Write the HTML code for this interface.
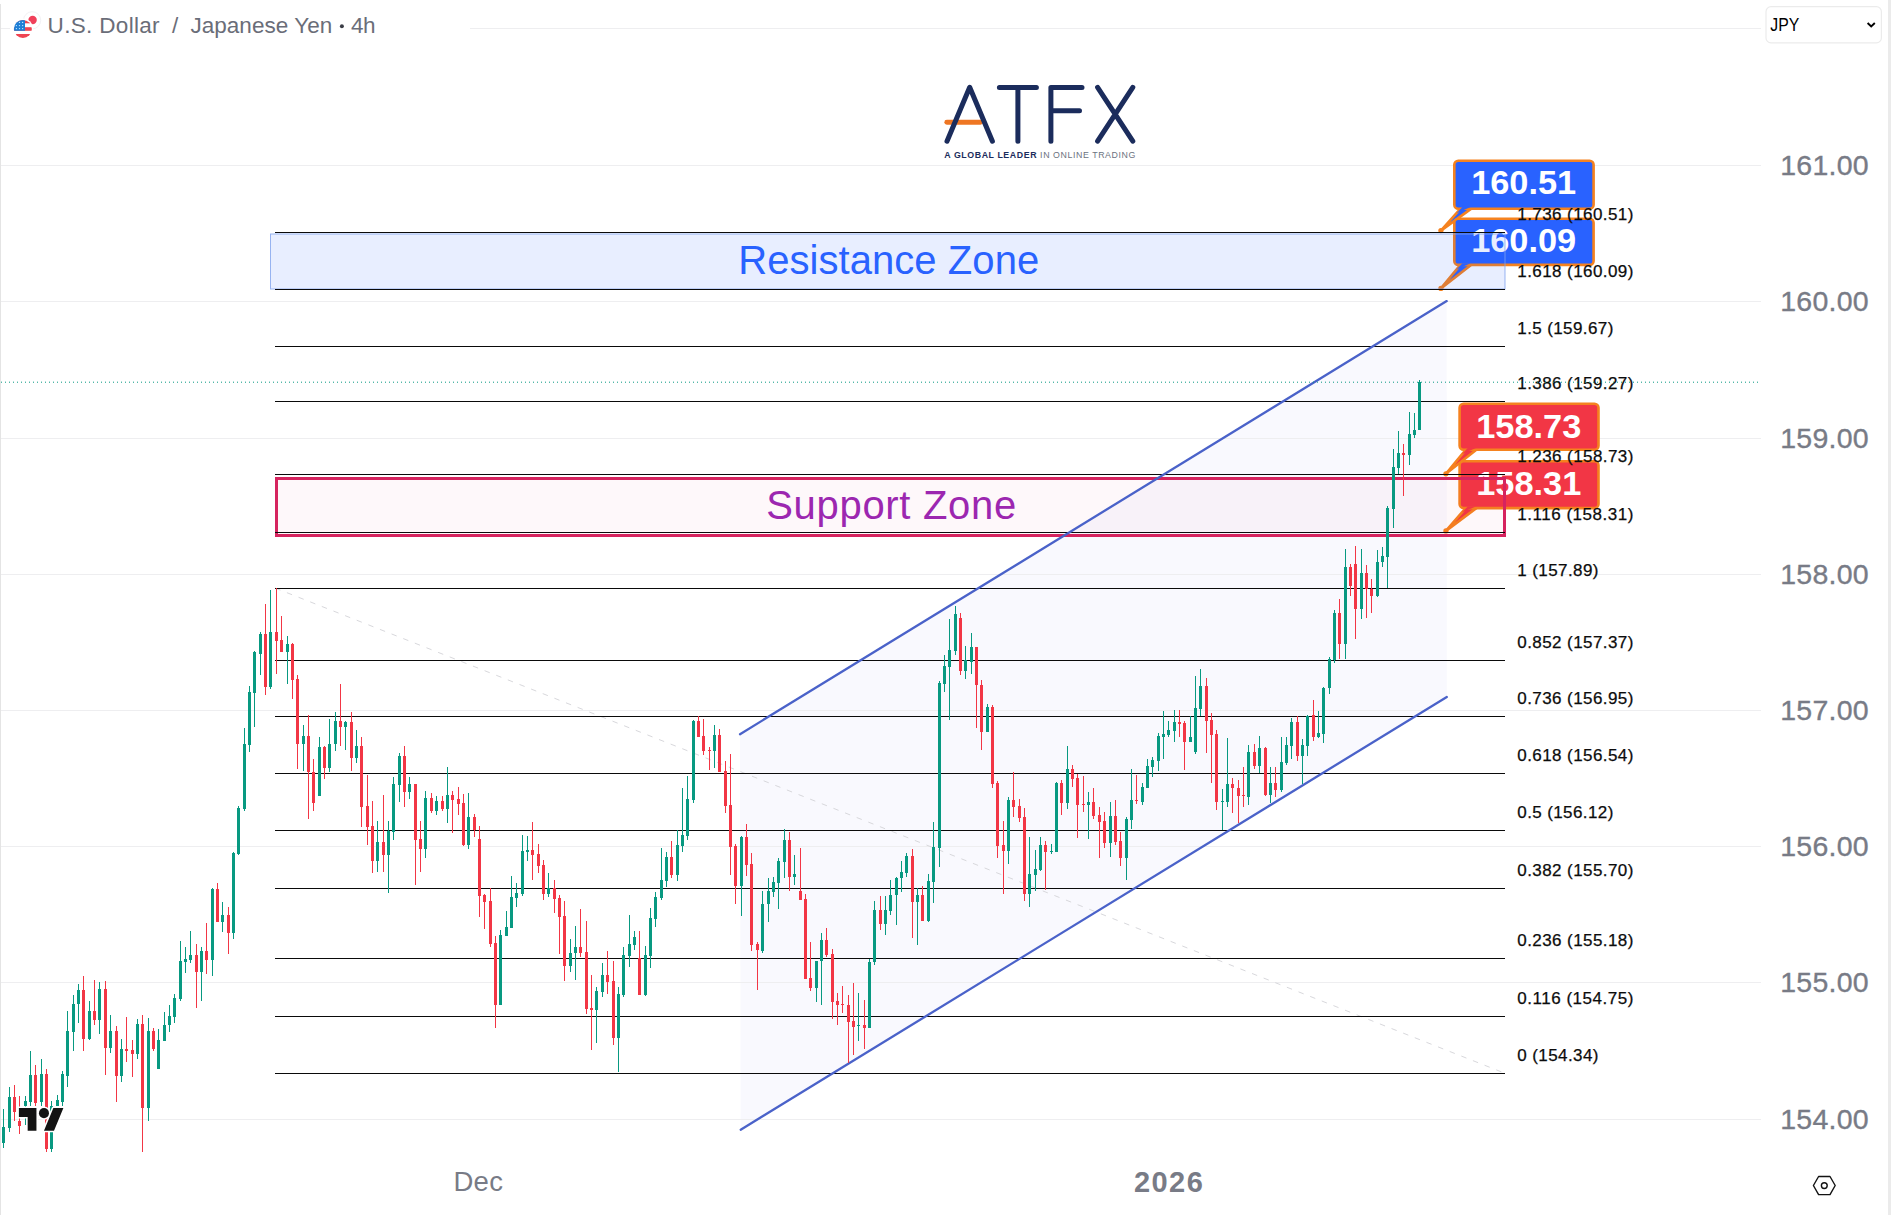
<!DOCTYPE html><html><head><meta charset="utf-8"><title>USDJPY</title>
<style>html,body{margin:0;padding:0;background:#fff;}body{width:1891px;height:1215px;overflow:hidden;font-family:"Liberation Sans",sans-serif;}svg{display:block;position:absolute;left:0;top:0}text{font-family:"Liberation Sans",sans-serif;}</style></head><body>
<svg width="1891" height="1215" viewBox="0 0 1891 1215">
<rect width="1891" height="1215" fill="#ffffff"/>
<rect x="1888" y="0" width="3" height="1215" fill="#ebebeb"/>
<rect x="0" y="4" width="1" height="1211" fill="#e4e4e4"/>
<polygon points="740,734.2 1446.7,301.1 1446.8,697 740.7,1129.7" fill="#f9f9fe"/>
<rect x="1" y="28" width="1760" height="1" fill="#eeeef0" shape-rendering="crispEdges"/>
<rect x="1" y="165" width="1760" height="1" fill="#eeeef0" shape-rendering="crispEdges"/>
<rect x="1" y="301" width="1760" height="1" fill="#eeeef0" shape-rendering="crispEdges"/>
<rect x="1" y="438" width="1760" height="1" fill="#eeeef0" shape-rendering="crispEdges"/>
<rect x="1" y="574" width="1760" height="1" fill="#eeeef0" shape-rendering="crispEdges"/>
<rect x="1" y="710" width="1760" height="1" fill="#eeeef0" shape-rendering="crispEdges"/>
<rect x="1" y="846" width="1760" height="1" fill="#eeeef0" shape-rendering="crispEdges"/>
<rect x="1" y="982" width="1760" height="1" fill="#eeeef0" shape-rendering="crispEdges"/>
<rect x="1" y="1119" width="1760" height="1" fill="#eeeef0" shape-rendering="crispEdges"/>
<line x1="275.3" y1="588.1" x2="1505" y2="1073.3" stroke="#d8d8dc" stroke-width="1" stroke-dasharray="5.5 7"/>
<path d="M1461.0,208.1 L1440.9,230.6 L1472.0,208.1 Z" fill="#2962ff" stroke="#f5821f" stroke-width="2.6" stroke-linejoin="round"/>
<circle cx="1440.9" cy="230.6" r="2.6" fill="#f5821f"/>
<rect x="1454.3" y="160.8" width="139.3" height="48.0" rx="4" fill="#2962ff" stroke="#f5821f" stroke-width="2.6"/>
<path d="M1462.5,207.1 L1456.5,213.29999999999998 L1470.5,207.1 Z" fill="#2962ff"/>
<text x="1523.65" y="194.0" font-size="33" font-weight="bold" fill="#fff" text-anchor="middle" textLength="105" lengthAdjust="spacingAndGlyphs">160.51</text>
<path d="M1461.0,264.2 L1440.9,288.4 L1472.0,264.2 Z" fill="#2962ff" stroke="#f5821f" stroke-width="2.6" stroke-linejoin="round"/>
<circle cx="1440.9" cy="288.4" r="2.6" fill="#f5821f"/>
<rect x="1454.3" y="218.70000000000002" width="139.3" height="46.199999999999996" rx="4" fill="#2962ff" stroke="#f5821f" stroke-width="2.6"/>
<path d="M1462.5,263.2 L1456.5,269.4 L1470.5,263.2 Z" fill="#2962ff"/>
<text x="1523.65" y="252.3" font-size="33" font-weight="bold" fill="#fff" text-anchor="middle" textLength="105" lengthAdjust="spacingAndGlyphs">160.09</text>
<path d="M1466.3,449.1 L1445.9,473.8 L1477.3,449.1 Z" fill="#f23645" stroke="#f5821f" stroke-width="2.6" stroke-linejoin="round"/>
<circle cx="1445.9" cy="473.8" r="2.6" fill="#f5821f"/>
<rect x="1459.6" y="403.8" width="138.9" height="46.0" rx="4" fill="#f23645" stroke="#f5821f" stroke-width="2.6"/>
<path d="M1467.8,448.1 L1461.8,454.3 L1475.8,448.1 Z" fill="#f23645"/>
<text x="1528.75" y="438.4" font-size="33" font-weight="bold" fill="#fff" text-anchor="middle" textLength="105" lengthAdjust="spacingAndGlyphs">158.73</text>
<path d="M1466.3,507.4 L1445.9,530.9 L1477.3,507.4 Z" fill="#f23645" stroke="#f5821f" stroke-width="2.6" stroke-linejoin="round"/>
<circle cx="1445.9" cy="530.9" r="2.6" fill="#f5821f"/>
<rect x="1459.6" y="461.3" width="138.9" height="46.8" rx="4" fill="#f23645" stroke="#f5821f" stroke-width="2.6"/>
<path d="M1467.8,506.4 L1461.8,512.6 L1475.8,506.4 Z" fill="#f23645"/>
<text x="1528.75" y="495.1" font-size="33" font-weight="bold" fill="#fff" text-anchor="middle" textLength="105" lengthAdjust="spacingAndGlyphs">158.31</text>
<text x="1517.3" y="1060.9" font-size="17" fill="#0c0c0c" stroke="#0c0c0c" stroke-width="0.25" textLength="81.2" lengthAdjust="spacing">0 (154.34)</text>
<text x="1517.3" y="1004.0" font-size="17" fill="#0c0c0c" stroke="#0c0c0c" stroke-width="0.25" textLength="116" lengthAdjust="spacing">0.116 (154.75)</text>
<text x="1517.3" y="945.9" font-size="17" fill="#0c0c0c" stroke="#0c0c0c" stroke-width="0.25" textLength="116" lengthAdjust="spacing">0.236 (155.18)</text>
<text x="1517.3" y="875.8" font-size="17" fill="#0c0c0c" stroke="#0c0c0c" stroke-width="0.25" textLength="116" lengthAdjust="spacing">0.382 (155.70)</text>
<text x="1517.3" y="818.1" font-size="17" fill="#0c0c0c" stroke="#0c0c0c" stroke-width="0.25" textLength="96" lengthAdjust="spacing">0.5 (156.12)</text>
<text x="1517.3" y="760.9" font-size="17" fill="#0c0c0c" stroke="#0c0c0c" stroke-width="0.25" textLength="116" lengthAdjust="spacing">0.618 (156.54)</text>
<text x="1517.3" y="704.0" font-size="17" fill="#0c0c0c" stroke="#0c0c0c" stroke-width="0.25" textLength="116" lengthAdjust="spacing">0.736 (156.95)</text>
<text x="1517.3" y="647.9" font-size="17" fill="#0c0c0c" stroke="#0c0c0c" stroke-width="0.25" textLength="116" lengthAdjust="spacing">0.852 (157.37)</text>
<text x="1517.3" y="575.9" font-size="17" fill="#0c0c0c" stroke="#0c0c0c" stroke-width="0.25" textLength="81.2" lengthAdjust="spacing">1 (157.89)</text>
<text x="1517.3" y="519.9" font-size="17" fill="#0c0c0c" stroke="#0c0c0c" stroke-width="0.25" textLength="116" lengthAdjust="spacing">1.116 (158.31)</text>
<text x="1517.3" y="462.0" font-size="17" fill="#0c0c0c" stroke="#0c0c0c" stroke-width="0.25" textLength="116" lengthAdjust="spacing">1.236 (158.73)</text>
<text x="1517.3" y="388.8" font-size="17" fill="#0c0c0c" stroke="#0c0c0c" stroke-width="0.25" textLength="116" lengthAdjust="spacing">1.386 (159.27)</text>
<text x="1517.3" y="333.7" font-size="17" fill="#0c0c0c" stroke="#0c0c0c" stroke-width="0.25" textLength="96" lengthAdjust="spacing">1.5 (159.67)</text>
<text x="1517.3" y="276.9" font-size="17" fill="#0c0c0c" stroke="#0c0c0c" stroke-width="0.25" textLength="116" lengthAdjust="spacing">1.618 (160.09)</text>
<text x="1517.3" y="220.1" font-size="17" fill="#0c0c0c" stroke="#0c0c0c" stroke-width="0.25" textLength="116" lengthAdjust="spacing">1.736 (160.51)</text>
<rect x="270.5" y="234" width="1234.5" height="55" fill="#2962ff" fill-opacity="0.105" stroke="#7fa1ee" stroke-opacity="0.8" stroke-width="1"/>
<text x="888.7" y="274.3" font-size="40" fill="#2962ff" text-anchor="middle" textLength="301" lengthAdjust="spacing">Resistance Zone</text>
<rect x="276.5" y="478.5" width="1228" height="57" fill="#e91e63" fill-opacity="0.03" stroke="#d6245f" stroke-width="3"/>
<text x="891.2" y="519.3" font-size="40" fill="#9c27b0" text-anchor="middle" textLength="250" lengthAdjust="spacing">Support Zone</text>
<rect x="275" y="1073" width="1230" height="1" fill="#0a0a0a" shape-rendering="crispEdges"/>
<rect x="275" y="1016" width="1230" height="1" fill="#0a0a0a" shape-rendering="crispEdges"/>
<rect x="275" y="958" width="1230" height="1" fill="#0a0a0a" shape-rendering="crispEdges"/>
<rect x="275" y="888" width="1230" height="1" fill="#0a0a0a" shape-rendering="crispEdges"/>
<rect x="275" y="830" width="1230" height="1" fill="#0a0a0a" shape-rendering="crispEdges"/>
<rect x="275" y="773" width="1230" height="1" fill="#0a0a0a" shape-rendering="crispEdges"/>
<rect x="275" y="716" width="1230" height="1" fill="#0a0a0a" shape-rendering="crispEdges"/>
<rect x="275" y="660" width="1230" height="1" fill="#0a0a0a" shape-rendering="crispEdges"/>
<rect x="275" y="588" width="1230" height="1" fill="#0a0a0a" shape-rendering="crispEdges"/>
<rect x="275" y="532" width="1230" height="1" fill="#0a0a0a" shape-rendering="crispEdges"/>
<rect x="275" y="474" width="1230" height="1" fill="#0a0a0a" shape-rendering="crispEdges"/>
<rect x="275" y="401" width="1230" height="1" fill="#0a0a0a" shape-rendering="crispEdges"/>
<rect x="275" y="346" width="1230" height="1" fill="#0a0a0a" shape-rendering="crispEdges"/>
<rect x="275" y="289" width="1230" height="1" fill="#0a0a0a" shape-rendering="crispEdges"/>
<rect x="275" y="232" width="1230" height="1" fill="#0a0a0a" shape-rendering="crispEdges"/>
<line x1="740" y1="734.2" x2="1446.7" y2="301.1" stroke="#4a62c9" stroke-width="2.3" stroke-linecap="round"/>
<line x1="740.7" y1="1129.7" x2="1446.8" y2="697" stroke="#4a62c9" stroke-width="2.3" stroke-linecap="round"/>
<g shape-rendering="crispEdges">
<rect x="3" y="1109.0" width="1" height="38.7" fill="#089981"/>
<rect x="2" y="1127.1" width="3" height="15.6" fill="#089981"/>
<rect x="9" y="1087.1" width="1" height="44.9" fill="#089981"/>
<rect x="8" y="1096.6" width="3" height="31.3" fill="#089981"/>
<rect x="14" y="1085.1" width="1" height="35.4" fill="#f23645"/>
<rect x="13" y="1096.6" width="3" height="15.7" fill="#f23645"/>
<rect x="19" y="1095.8" width="1" height="37.9" fill="#f23645"/>
<rect x="18" y="1121.0" width="3" height="4.9" fill="#f23645"/>
<rect x="25" y="1095.8" width="1" height="29.6" fill="#089981"/>
<rect x="24" y="1100.7" width="3" height="5.0" fill="#089981"/>
<rect x="30" y="1051.0" width="1" height="54.7" fill="#089981"/>
<rect x="29" y="1075.2" width="3" height="27.2" fill="#089981"/>
<rect x="35" y="1064.5" width="1" height="41.2" fill="#f23645"/>
<rect x="34" y="1075.2" width="3" height="28.0" fill="#f23645"/>
<rect x="41" y="1058.8" width="1" height="46.9" fill="#089981"/>
<rect x="40" y="1073.9" width="3" height="28.5" fill="#089981"/>
<rect x="46" y="1068.6" width="1" height="83.2" fill="#f23645"/>
<rect x="45" y="1073.6" width="3" height="75.7" fill="#f23645"/>
<rect x="51" y="1100.7" width="1" height="51.1" fill="#089981"/>
<rect x="50" y="1105.7" width="3" height="43.6" fill="#089981"/>
<rect x="57" y="1095.0" width="1" height="10.7" fill="#089981"/>
<rect x="56" y="1099.9" width="3" height="5.8" fill="#089981"/>
<rect x="62" y="1071.1" width="1" height="34.6" fill="#089981"/>
<rect x="61" y="1074.4" width="3" height="27.2" fill="#089981"/>
<rect x="67" y="1011.0" width="1" height="75.7" fill="#089981"/>
<rect x="66" y="1030.8" width="3" height="45.2" fill="#089981"/>
<rect x="73" y="995.1" width="1" height="56.3" fill="#089981"/>
<rect x="72" y="1004.1" width="3" height="27.5" fill="#089981"/>
<rect x="78" y="984.4" width="1" height="38.2" fill="#089981"/>
<rect x="77" y="989.6" width="3" height="14.8" fill="#089981"/>
<rect x="83" y="976.1" width="1" height="74.4" fill="#f23645"/>
<rect x="82" y="989.6" width="3" height="49.4" fill="#f23645"/>
<rect x="89" y="1001.2" width="1" height="38.6" fill="#089981"/>
<rect x="88" y="1011.0" width="3" height="28.0" fill="#089981"/>
<rect x="94" y="980.1" width="1" height="44.4" fill="#f23645"/>
<rect x="93" y="1011.0" width="3" height="8.6" fill="#f23645"/>
<rect x="99" y="981.9" width="1" height="51.8" fill="#089981"/>
<rect x="98" y="988.8" width="3" height="30.8" fill="#089981"/>
<rect x="105" y="981.1" width="1" height="93.6" fill="#f23645"/>
<rect x="104" y="988.8" width="3" height="59.3" fill="#f23645"/>
<rect x="110" y="1015.1" width="1" height="37.9" fill="#089981"/>
<rect x="109" y="1030.8" width="3" height="17.3" fill="#089981"/>
<rect x="116" y="1026.2" width="1" height="75.4" fill="#f23645"/>
<rect x="115" y="1030.8" width="3" height="45.2" fill="#f23645"/>
<rect x="121" y="1039.0" width="1" height="42.8" fill="#089981"/>
<rect x="120" y="1048.9" width="3" height="27.1" fill="#089981"/>
<rect x="126" y="1017.1" width="1" height="44.6" fill="#f23645"/>
<rect x="125" y="1048.9" width="3" height="2.0" fill="#f23645"/>
<rect x="132" y="1040.3" width="1" height="36.6" fill="#f23645"/>
<rect x="131" y="1050.0" width="3" height="3.8" fill="#f23645"/>
<rect x="137" y="1018.9" width="1" height="39.9" fill="#089981"/>
<rect x="136" y="1024.2" width="3" height="29.6" fill="#089981"/>
<rect x="142" y="1015.1" width="1" height="136.7" fill="#f23645"/>
<rect x="141" y="1024.2" width="3" height="83.9" fill="#f23645"/>
<rect x="148" y="1017.9" width="1" height="102.9" fill="#089981"/>
<rect x="147" y="1030.8" width="3" height="77.3" fill="#089981"/>
<rect x="153" y="1028.0" width="1" height="22.5" fill="#f23645"/>
<rect x="152" y="1030.8" width="3" height="17.8" fill="#f23645"/>
<rect x="158" y="1029.1" width="1" height="39.5" fill="#089981"/>
<rect x="157" y="1040.2" width="3" height="28.4" fill="#089981"/>
<rect x="164" y="1012.3" width="1" height="28.4" fill="#089981"/>
<rect x="163" y="1025.0" width="3" height="15.7" fill="#089981"/>
<rect x="169" y="1004.9" width="1" height="27.5" fill="#089981"/>
<rect x="168" y="1016.0" width="3" height="9.3" fill="#089981"/>
<rect x="174" y="994.2" width="1" height="29.2" fill="#089981"/>
<rect x="173" y="998.2" width="3" height="18.6" fill="#089981"/>
<rect x="180" y="941.2" width="1" height="59.6" fill="#089981"/>
<rect x="179" y="960.8" width="3" height="37.9" fill="#089981"/>
<rect x="185" y="947.0" width="1" height="25.8" fill="#089981"/>
<rect x="184" y="959.0" width="3" height="2.8" fill="#089981"/>
<rect x="190" y="931.3" width="1" height="31.6" fill="#089981"/>
<rect x="189" y="955.2" width="3" height="4.9" fill="#089981"/>
<rect x="196" y="944.2" width="1" height="63.5" fill="#f23645"/>
<rect x="195" y="955.2" width="3" height="16.3" fill="#f23645"/>
<rect x="201" y="947.4" width="1" height="53.4" fill="#089981"/>
<rect x="200" y="951.1" width="3" height="20.5" fill="#089981"/>
<rect x="206" y="923.1" width="1" height="50.7" fill="#f23645"/>
<rect x="205" y="951.1" width="3" height="8.5" fill="#f23645"/>
<rect x="212" y="888.2" width="1" height="87.5" fill="#089981"/>
<rect x="211" y="888.8" width="3" height="70.8" fill="#089981"/>
<rect x="217" y="883.3" width="1" height="38.5" fill="#f23645"/>
<rect x="216" y="888.8" width="3" height="33.0" fill="#f23645"/>
<rect x="222" y="902.0" width="1" height="29.8" fill="#089981"/>
<rect x="221" y="914.9" width="3" height="6.9" fill="#089981"/>
<rect x="228" y="907.0" width="1" height="46.9" fill="#f23645"/>
<rect x="227" y="914.9" width="3" height="17.7" fill="#f23645"/>
<rect x="233" y="852.3" width="1" height="86.4" fill="#089981"/>
<rect x="232" y="853.1" width="3" height="79.5" fill="#089981"/>
<rect x="238" y="805.9" width="1" height="48.9" fill="#089981"/>
<rect x="237" y="808.2" width="3" height="45.8" fill="#089981"/>
<rect x="244" y="728.1" width="1" height="82.6" fill="#089981"/>
<rect x="243" y="743.8" width="3" height="64.9" fill="#089981"/>
<rect x="249" y="686.2" width="1" height="65.8" fill="#089981"/>
<rect x="248" y="691.9" width="3" height="52.7" fill="#089981"/>
<rect x="254" y="650.8" width="1" height="76.2" fill="#089981"/>
<rect x="253" y="652.4" width="3" height="40.4" fill="#089981"/>
<rect x="260" y="631.9" width="1" height="43.2" fill="#089981"/>
<rect x="259" y="633.5" width="3" height="20.2" fill="#089981"/>
<rect x="265" y="603.9" width="1" height="91.3" fill="#f23645"/>
<rect x="264" y="633.5" width="3" height="53.8" fill="#f23645"/>
<rect x="270" y="589.9" width="1" height="99.1" fill="#089981"/>
<rect x="269" y="631.9" width="3" height="55.4" fill="#089981"/>
<rect x="276" y="587.9" width="1" height="86.3" fill="#f23645"/>
<rect x="275" y="631.9" width="3" height="8.7" fill="#f23645"/>
<rect x="281" y="615.9" width="1" height="35.7" fill="#f23645"/>
<rect x="280" y="640.1" width="3" height="11.5" fill="#f23645"/>
<rect x="287" y="636.0" width="1" height="48.0" fill="#089981"/>
<rect x="286" y="643.9" width="3" height="7.7" fill="#089981"/>
<rect x="292" y="642.6" width="1" height="56.2" fill="#f23645"/>
<rect x="291" y="643.9" width="3" height="35.7" fill="#f23645"/>
<rect x="297" y="675.1" width="1" height="93.9" fill="#f23645"/>
<rect x="296" y="678.8" width="3" height="65.0" fill="#f23645"/>
<rect x="303" y="724.9" width="1" height="46.0" fill="#089981"/>
<rect x="302" y="736.0" width="3" height="7.8" fill="#089981"/>
<rect x="308" y="715.1" width="1" height="103.4" fill="#f23645"/>
<rect x="307" y="736.2" width="3" height="36.2" fill="#f23645"/>
<rect x="313" y="759.3" width="1" height="51.3" fill="#f23645"/>
<rect x="312" y="772.4" width="3" height="30.5" fill="#f23645"/>
<rect x="319" y="737.0" width="1" height="58.8" fill="#089981"/>
<rect x="318" y="747.2" width="3" height="48.6" fill="#089981"/>
<rect x="324" y="746.1" width="1" height="32.6" fill="#f23645"/>
<rect x="323" y="746.9" width="3" height="20.6" fill="#f23645"/>
<rect x="329" y="719.3" width="1" height="52.3" fill="#089981"/>
<rect x="328" y="744.1" width="3" height="23.4" fill="#089981"/>
<rect x="335" y="711.9" width="1" height="38.8" fill="#089981"/>
<rect x="334" y="720.9" width="3" height="23.5" fill="#089981"/>
<rect x="340" y="684.0" width="1" height="61.8" fill="#f23645"/>
<rect x="339" y="720.9" width="3" height="5.8" fill="#f23645"/>
<rect x="345" y="720.9" width="1" height="28.8" fill="#089981"/>
<rect x="344" y="721.7" width="3" height="5.0" fill="#089981"/>
<rect x="351" y="711.9" width="1" height="58.9" fill="#f23645"/>
<rect x="350" y="722.2" width="3" height="36.2" fill="#f23645"/>
<rect x="356" y="730.0" width="1" height="32.9" fill="#089981"/>
<rect x="355" y="746.1" width="3" height="12.3" fill="#089981"/>
<rect x="361" y="737.0" width="1" height="89.7" fill="#f23645"/>
<rect x="360" y="746.1" width="3" height="60.9" fill="#f23645"/>
<rect x="367" y="775.2" width="1" height="69.7" fill="#f23645"/>
<rect x="366" y="806.2" width="3" height="20.5" fill="#f23645"/>
<rect x="372" y="801.2" width="1" height="71.6" fill="#f23645"/>
<rect x="371" y="825.9" width="3" height="35.1" fill="#f23645"/>
<rect x="377" y="821.0" width="1" height="50.7" fill="#089981"/>
<rect x="376" y="841.9" width="3" height="19.1" fill="#089981"/>
<rect x="383" y="795.1" width="1" height="76.6" fill="#f23645"/>
<rect x="382" y="841.9" width="3" height="12.8" fill="#f23645"/>
<rect x="388" y="821.0" width="1" height="71.6" fill="#089981"/>
<rect x="387" y="830.9" width="3" height="23.8" fill="#089981"/>
<rect x="393" y="777.0" width="1" height="62.9" fill="#089981"/>
<rect x="392" y="784.0" width="3" height="47.7" fill="#089981"/>
<rect x="399" y="753.0" width="1" height="48.7" fill="#089981"/>
<rect x="398" y="756.0" width="3" height="28.8" fill="#089981"/>
<rect x="404" y="746.1" width="1" height="60.6" fill="#f23645"/>
<rect x="403" y="756.0" width="3" height="35.9" fill="#f23645"/>
<rect x="409" y="777.0" width="1" height="21.8" fill="#089981"/>
<rect x="408" y="784.0" width="3" height="7.9" fill="#089981"/>
<rect x="415" y="784.0" width="1" height="100.7" fill="#f23645"/>
<rect x="414" y="784.0" width="3" height="55.6" fill="#f23645"/>
<rect x="420" y="821.0" width="1" height="50.7" fill="#f23645"/>
<rect x="419" y="839.1" width="3" height="9.9" fill="#f23645"/>
<rect x="425" y="791.4" width="1" height="66.3" fill="#089981"/>
<rect x="424" y="798.3" width="3" height="50.7" fill="#089981"/>
<rect x="431" y="793.0" width="1" height="19.8" fill="#f23645"/>
<rect x="430" y="798.3" width="3" height="12.3" fill="#f23645"/>
<rect x="436" y="796.3" width="1" height="18.6" fill="#089981"/>
<rect x="435" y="801.2" width="3" height="9.4" fill="#089981"/>
<rect x="442" y="796.3" width="1" height="14.3" fill="#f23645"/>
<rect x="441" y="801.2" width="3" height="7.4" fill="#f23645"/>
<rect x="447" y="767.0" width="1" height="55.6" fill="#089981"/>
<rect x="446" y="795.1" width="3" height="13.5" fill="#089981"/>
<rect x="452" y="790.9" width="1" height="41.6" fill="#f23645"/>
<rect x="451" y="795.1" width="3" height="4.5" fill="#f23645"/>
<rect x="458" y="787.2" width="1" height="28.0" fill="#f23645"/>
<rect x="457" y="799.1" width="3" height="4.6" fill="#f23645"/>
<rect x="463" y="794.2" width="1" height="51.5" fill="#f23645"/>
<rect x="462" y="803.2" width="3" height="41.7" fill="#f23645"/>
<rect x="468" y="793.0" width="1" height="55.6" fill="#089981"/>
<rect x="467" y="817.2" width="3" height="27.7" fill="#089981"/>
<rect x="474" y="814.1" width="1" height="22.5" fill="#f23645"/>
<rect x="473" y="817.2" width="3" height="12.8" fill="#f23645"/>
<rect x="479" y="826.3" width="1" height="90.5" fill="#f23645"/>
<rect x="478" y="838.9" width="3" height="56.8" fill="#f23645"/>
<rect x="484" y="894.1" width="1" height="34.5" fill="#f23645"/>
<rect x="483" y="894.9" width="3" height="6.6" fill="#f23645"/>
<rect x="490" y="888.0" width="1" height="58.7" fill="#f23645"/>
<rect x="489" y="900.7" width="3" height="43.1" fill="#f23645"/>
<rect x="495" y="936.0" width="1" height="91.6" fill="#f23645"/>
<rect x="494" y="943.1" width="3" height="61.6" fill="#f23645"/>
<rect x="500" y="930.3" width="1" height="74.4" fill="#089981"/>
<rect x="499" y="934.9" width="3" height="69.8" fill="#089981"/>
<rect x="506" y="911.0" width="1" height="24.7" fill="#089981"/>
<rect x="505" y="927.0" width="3" height="8.7" fill="#089981"/>
<rect x="511" y="876.3" width="1" height="51.5" fill="#089981"/>
<rect x="510" y="896.9" width="3" height="30.9" fill="#089981"/>
<rect x="516" y="883.0" width="1" height="23.7" fill="#089981"/>
<rect x="515" y="893.3" width="3" height="4.4" fill="#089981"/>
<rect x="522" y="835.1" width="1" height="60.6" fill="#089981"/>
<rect x="521" y="850.8" width="3" height="43.3" fill="#089981"/>
<rect x="527" y="836.0" width="1" height="24.8" fill="#089981"/>
<rect x="526" y="850.0" width="3" height="1.6" fill="#089981"/>
<rect x="532" y="822.1" width="1" height="58.0" fill="#f23645"/>
<rect x="531" y="850.0" width="3" height="4.9" fill="#f23645"/>
<rect x="538" y="844.2" width="1" height="28.5" fill="#f23645"/>
<rect x="537" y="854.1" width="3" height="11.5" fill="#f23645"/>
<rect x="543" y="860.0" width="1" height="39.8" fill="#f23645"/>
<rect x="542" y="864.8" width="3" height="28.8" fill="#f23645"/>
<rect x="548" y="873.0" width="1" height="23.9" fill="#089981"/>
<rect x="547" y="888.3" width="3" height="5.3" fill="#089981"/>
<rect x="554" y="880.1" width="1" height="32.9" fill="#f23645"/>
<rect x="553" y="888.3" width="3" height="10.4" fill="#f23645"/>
<rect x="559" y="895.2" width="1" height="58.5" fill="#f23645"/>
<rect x="558" y="898.2" width="3" height="18.6" fill="#f23645"/>
<rect x="564" y="901.2" width="1" height="79.6" fill="#f23645"/>
<rect x="563" y="916.3" width="3" height="49.4" fill="#f23645"/>
<rect x="570" y="939.0" width="1" height="32.8" fill="#089981"/>
<rect x="569" y="953.3" width="3" height="12.4" fill="#089981"/>
<rect x="575" y="926.2" width="1" height="53.5" fill="#089981"/>
<rect x="574" y="947.1" width="3" height="6.2" fill="#089981"/>
<rect x="580" y="909.2" width="1" height="47.4" fill="#f23645"/>
<rect x="579" y="947.1" width="3" height="5.4" fill="#f23645"/>
<rect x="586" y="921.2" width="1" height="92.7" fill="#f23645"/>
<rect x="585" y="952.0" width="3" height="56.8" fill="#f23645"/>
<rect x="591" y="975.1" width="1" height="74.7" fill="#f23645"/>
<rect x="590" y="1008.0" width="3" height="1.6" fill="#f23645"/>
<rect x="596" y="987.1" width="1" height="55.8" fill="#089981"/>
<rect x="595" y="991.2" width="3" height="18.4" fill="#089981"/>
<rect x="602" y="963.2" width="1" height="33.8" fill="#089981"/>
<rect x="601" y="975.1" width="3" height="16.4" fill="#089981"/>
<rect x="607" y="951.2" width="1" height="42.5" fill="#f23645"/>
<rect x="606" y="975.1" width="3" height="6.7" fill="#f23645"/>
<rect x="613" y="961.1" width="1" height="83.8" fill="#f23645"/>
<rect x="612" y="981.3" width="3" height="56.6" fill="#f23645"/>
<rect x="618" y="987.1" width="1" height="84.6" fill="#089981"/>
<rect x="617" y="994.2" width="3" height="43.7" fill="#089981"/>
<rect x="623" y="947.1" width="1" height="49.9" fill="#089981"/>
<rect x="622" y="955.0" width="3" height="39.8" fill="#089981"/>
<rect x="629" y="915.1" width="1" height="51.4" fill="#089981"/>
<rect x="628" y="944.3" width="3" height="11.5" fill="#089981"/>
<rect x="634" y="931.1" width="1" height="18.6" fill="#089981"/>
<rect x="633" y="937.2" width="3" height="7.6" fill="#089981"/>
<rect x="639" y="931.1" width="1" height="63.7" fill="#f23645"/>
<rect x="638" y="957.9" width="3" height="36.9" fill="#f23645"/>
<rect x="645" y="945.9" width="1" height="49.9" fill="#089981"/>
<rect x="644" y="955.0" width="3" height="39.8" fill="#089981"/>
<rect x="650" y="908.1" width="1" height="59.6" fill="#089981"/>
<rect x="649" y="918.3" width="3" height="37.5" fill="#089981"/>
<rect x="655" y="892.1" width="1" height="34.9" fill="#089981"/>
<rect x="654" y="897.0" width="3" height="21.8" fill="#089981"/>
<rect x="661" y="848.1" width="1" height="51.9" fill="#089981"/>
<rect x="660" y="880.2" width="3" height="17.3" fill="#089981"/>
<rect x="666" y="852.3" width="1" height="34.5" fill="#089981"/>
<rect x="665" y="857.2" width="3" height="23.4" fill="#089981"/>
<rect x="671" y="841.1" width="1" height="36.7" fill="#f23645"/>
<rect x="670" y="857.2" width="3" height="17.8" fill="#f23645"/>
<rect x="677" y="830.0" width="1" height="50.6" fill="#089981"/>
<rect x="676" y="845.2" width="3" height="29.8" fill="#089981"/>
<rect x="682" y="788.1" width="1" height="63.7" fill="#089981"/>
<rect x="681" y="835.0" width="3" height="10.7" fill="#089981"/>
<rect x="687" y="776.2" width="1" height="63.7" fill="#089981"/>
<rect x="686" y="798.8" width="3" height="37.0" fill="#089981"/>
<rect x="693" y="719.8" width="1" height="83.1" fill="#089981"/>
<rect x="692" y="720.9" width="3" height="78.7" fill="#089981"/>
<rect x="698" y="716.0" width="1" height="20.5" fill="#f23645"/>
<rect x="697" y="720.9" width="3" height="15.6" fill="#f23645"/>
<rect x="703" y="719.3" width="1" height="35.8" fill="#f23645"/>
<rect x="702" y="735.9" width="3" height="14.8" fill="#f23645"/>
<rect x="709" y="746.9" width="1" height="23.1" fill="#f23645"/>
<rect x="708" y="749.9" width="3" height="1.1" fill="#f23645"/>
<rect x="714" y="725.0" width="1" height="42.8" fill="#089981"/>
<rect x="713" y="734.9" width="3" height="15.6" fill="#089981"/>
<rect x="719" y="729.1" width="1" height="42.8" fill="#f23645"/>
<rect x="718" y="734.9" width="3" height="37.0" fill="#f23645"/>
<rect x="725" y="761.2" width="1" height="51.6" fill="#f23645"/>
<rect x="724" y="771.1" width="3" height="35.1" fill="#f23645"/>
<rect x="730" y="754.0" width="1" height="121.0" fill="#f23645"/>
<rect x="729" y="805.0" width="3" height="41.5" fill="#f23645"/>
<rect x="735" y="844.0" width="1" height="60.4" fill="#f23645"/>
<rect x="734" y="846.2" width="3" height="39.8" fill="#f23645"/>
<rect x="741" y="835.8" width="1" height="79.8" fill="#089981"/>
<rect x="740" y="837.0" width="3" height="49.0" fill="#089981"/>
<rect x="746" y="824.3" width="1" height="51.5" fill="#f23645"/>
<rect x="745" y="837.0" width="3" height="27.6" fill="#f23645"/>
<rect x="751" y="853.1" width="1" height="97.4" fill="#f23645"/>
<rect x="750" y="864.1" width="3" height="80.7" fill="#f23645"/>
<rect x="757" y="942.0" width="1" height="47.7" fill="#f23645"/>
<rect x="756" y="943.6" width="3" height="6.6" fill="#f23645"/>
<rect x="762" y="890.9" width="1" height="61.6" fill="#089981"/>
<rect x="761" y="904.1" width="3" height="46.4" fill="#089981"/>
<rect x="768" y="878.1" width="1" height="43.6" fill="#089981"/>
<rect x="767" y="890.9" width="3" height="13.5" fill="#089981"/>
<rect x="773" y="877.0" width="1" height="19.5" fill="#089981"/>
<rect x="772" y="882.2" width="3" height="9.9" fill="#089981"/>
<rect x="778" y="858.4" width="1" height="50.5" fill="#089981"/>
<rect x="777" y="861.3" width="3" height="21.4" fill="#089981"/>
<rect x="784" y="829.2" width="1" height="48.6" fill="#089981"/>
<rect x="783" y="839.9" width="3" height="21.9" fill="#089981"/>
<rect x="789" y="832.0" width="1" height="58.9" fill="#f23645"/>
<rect x="788" y="839.9" width="3" height="37.1" fill="#f23645"/>
<rect x="794" y="855.1" width="1" height="29.6" fill="#089981"/>
<rect x="793" y="874.2" width="3" height="2.8" fill="#089981"/>
<rect x="800" y="848.1" width="1" height="51.4" fill="#f23645"/>
<rect x="799" y="890.9" width="3" height="8.6" fill="#f23645"/>
<rect x="805" y="894.2" width="1" height="84.3" fill="#f23645"/>
<rect x="804" y="898.7" width="3" height="79.8" fill="#f23645"/>
<rect x="810" y="942.3" width="1" height="48.6" fill="#f23645"/>
<rect x="809" y="978.2" width="3" height="9.4" fill="#f23645"/>
<rect x="816" y="960.9" width="1" height="40.7" fill="#089981"/>
<rect x="815" y="960.9" width="3" height="26.7" fill="#089981"/>
<rect x="821" y="933.3" width="1" height="71.6" fill="#089981"/>
<rect x="820" y="940.2" width="3" height="21.0" fill="#089981"/>
<rect x="826" y="928.0" width="1" height="28.8" fill="#f23645"/>
<rect x="825" y="940.2" width="3" height="14.5" fill="#f23645"/>
<rect x="832" y="949.2" width="1" height="69.6" fill="#f23645"/>
<rect x="831" y="954.2" width="3" height="47.4" fill="#f23645"/>
<rect x="837" y="993.3" width="1" height="32.1" fill="#f23645"/>
<rect x="836" y="1001.2" width="3" height="3.7" fill="#f23645"/>
<rect x="842" y="986.3" width="1" height="27.1" fill="#f23645"/>
<rect x="841" y="1004.0" width="3" height="1.0" fill="#f23645"/>
<rect x="848" y="995.3" width="1" height="68.1" fill="#f23645"/>
<rect x="847" y="1004.9" width="3" height="16.7" fill="#f23645"/>
<rect x="853" y="983.1" width="1" height="72.0" fill="#f23645"/>
<rect x="852" y="1021.3" width="3" height="5.3" fill="#f23645"/>
<rect x="858" y="993.0" width="1" height="47.6" fill="#089981"/>
<rect x="857" y="1024.6" width="3" height="1.2" fill="#089981"/>
<rect x="864" y="1000.2" width="1" height="48.6" fill="#f23645"/>
<rect x="863" y="1025.1" width="3" height="2.8" fill="#f23645"/>
<rect x="869" y="958.8" width="1" height="69.1" fill="#089981"/>
<rect x="868" y="962.1" width="3" height="65.8" fill="#089981"/>
<rect x="874" y="901.2" width="1" height="63.7" fill="#089981"/>
<rect x="873" y="910.2" width="3" height="52.2" fill="#089981"/>
<rect x="880" y="896.2" width="1" height="33.3" fill="#f23645"/>
<rect x="879" y="910.2" width="3" height="13.7" fill="#f23645"/>
<rect x="885" y="896.2" width="1" height="38.7" fill="#089981"/>
<rect x="884" y="910.2" width="3" height="13.7" fill="#089981"/>
<rect x="890" y="880.1" width="1" height="35.0" fill="#089981"/>
<rect x="889" y="894.9" width="3" height="15.8" fill="#089981"/>
<rect x="896" y="877.0" width="1" height="47.5" fill="#089981"/>
<rect x="895" y="878.1" width="3" height="17.3" fill="#089981"/>
<rect x="901" y="861.3" width="1" height="30.3" fill="#089981"/>
<rect x="900" y="872.3" width="3" height="6.1" fill="#089981"/>
<rect x="906" y="853.3" width="1" height="24.1" fill="#089981"/>
<rect x="905" y="856.0" width="3" height="16.5" fill="#089981"/>
<rect x="912" y="848.6" width="1" height="89.8" fill="#f23645"/>
<rect x="911" y="856.0" width="3" height="46.1" fill="#f23645"/>
<rect x="917" y="888.1" width="1" height="56.7" fill="#089981"/>
<rect x="916" y="895.1" width="3" height="7.0" fill="#089981"/>
<rect x="922" y="886.2" width="1" height="34.5" fill="#f23645"/>
<rect x="921" y="895.1" width="3" height="25.6" fill="#f23645"/>
<rect x="928" y="874.2" width="1" height="47.7" fill="#089981"/>
<rect x="927" y="881.1" width="3" height="40.0" fill="#089981"/>
<rect x="933" y="822.3" width="1" height="80.3" fill="#089981"/>
<rect x="932" y="847.0" width="3" height="34.6" fill="#089981"/>
<rect x="939" y="681.0" width="1" height="185.7" fill="#089981"/>
<rect x="938" y="683.0" width="3" height="164.8" fill="#089981"/>
<rect x="944" y="655.3" width="1" height="36.3" fill="#089981"/>
<rect x="943" y="666.0" width="3" height="17.8" fill="#089981"/>
<rect x="949" y="619.3" width="1" height="100.4" fill="#089981"/>
<rect x="948" y="650.1" width="3" height="16.4" fill="#089981"/>
<rect x="955" y="606.1" width="1" height="48.4" fill="#089981"/>
<rect x="954" y="613.9" width="3" height="36.7" fill="#089981"/>
<rect x="960" y="613.4" width="1" height="61.4" fill="#f23645"/>
<rect x="959" y="618.0" width="3" height="52.7" fill="#f23645"/>
<rect x="965" y="646.0" width="1" height="32.9" fill="#089981"/>
<rect x="964" y="659.5" width="3" height="11.2" fill="#089981"/>
<rect x="971" y="633.1" width="1" height="40.5" fill="#089981"/>
<rect x="970" y="647.1" width="3" height="14.5" fill="#089981"/>
<rect x="976" y="647.1" width="1" height="80.7" fill="#f23645"/>
<rect x="975" y="647.1" width="3" height="38.0" fill="#f23645"/>
<rect x="981" y="680.2" width="1" height="69.5" fill="#f23645"/>
<rect x="980" y="684.7" width="3" height="46.9" fill="#f23645"/>
<rect x="987" y="703.9" width="1" height="27.7" fill="#089981"/>
<rect x="986" y="707.2" width="3" height="24.4" fill="#089981"/>
<rect x="992" y="704.9" width="1" height="83.5" fill="#f23645"/>
<rect x="991" y="707.2" width="3" height="76.5" fill="#f23645"/>
<rect x="997" y="781.2" width="1" height="76.5" fill="#f23645"/>
<rect x="996" y="783.1" width="3" height="63.1" fill="#f23645"/>
<rect x="1003" y="821.2" width="1" height="72.7" fill="#f23645"/>
<rect x="1002" y="845.3" width="3" height="5.3" fill="#f23645"/>
<rect x="1008" y="797.1" width="1" height="66.7" fill="#089981"/>
<rect x="1007" y="800.1" width="3" height="50.5" fill="#089981"/>
<rect x="1013" y="772.4" width="1" height="45.0" fill="#f23645"/>
<rect x="1012" y="800.1" width="3" height="6.6" fill="#f23645"/>
<rect x="1019" y="799.3" width="1" height="22.2" fill="#f23645"/>
<rect x="1018" y="805.8" width="3" height="11.9" fill="#f23645"/>
<rect x="1024" y="808.3" width="1" height="92.2" fill="#f23645"/>
<rect x="1023" y="816.9" width="3" height="77.0" fill="#f23645"/>
<rect x="1029" y="837.1" width="1" height="69.5" fill="#089981"/>
<rect x="1028" y="874.2" width="3" height="19.7" fill="#089981"/>
<rect x="1035" y="850.3" width="1" height="41.1" fill="#089981"/>
<rect x="1034" y="869.2" width="3" height="5.5" fill="#089981"/>
<rect x="1040" y="837.1" width="1" height="33.8" fill="#089981"/>
<rect x="1039" y="844.9" width="3" height="25.1" fill="#089981"/>
<rect x="1045" y="841.2" width="1" height="48.6" fill="#f23645"/>
<rect x="1044" y="844.9" width="3" height="6.7" fill="#f23645"/>
<rect x="1051" y="844.0" width="1" height="9.6" fill="#089981"/>
<rect x="1050" y="851.1" width="3" height="1.2" fill="#089981"/>
<rect x="1056" y="782.0" width="1" height="69.9" fill="#089981"/>
<rect x="1055" y="783.1" width="3" height="68.8" fill="#089981"/>
<rect x="1061" y="779.5" width="1" height="35.4" fill="#f23645"/>
<rect x="1060" y="783.1" width="3" height="19.5" fill="#f23645"/>
<rect x="1067" y="746.3" width="1" height="62.5" fill="#089981"/>
<rect x="1066" y="769.3" width="3" height="33.3" fill="#089981"/>
<rect x="1072" y="765.0" width="1" height="21.9" fill="#f23645"/>
<rect x="1071" y="769.3" width="3" height="9.4" fill="#f23645"/>
<rect x="1077" y="773.7" width="1" height="64.2" fill="#f23645"/>
<rect x="1076" y="778.2" width="3" height="26.3" fill="#f23645"/>
<rect x="1083" y="776.0" width="1" height="36.3" fill="#f23645"/>
<rect x="1082" y="803.7" width="3" height="1.2" fill="#f23645"/>
<rect x="1088" y="791.7" width="1" height="46.9" fill="#089981"/>
<rect x="1087" y="801.9" width="3" height="3.0" fill="#089981"/>
<rect x="1093" y="788.1" width="1" height="31.2" fill="#f23645"/>
<rect x="1092" y="801.9" width="3" height="13.7" fill="#f23645"/>
<rect x="1099" y="807.3" width="1" height="50.2" fill="#f23645"/>
<rect x="1098" y="815.1" width="3" height="6.7" fill="#f23645"/>
<rect x="1104" y="812.3" width="1" height="35.4" fill="#f23645"/>
<rect x="1103" y="821.0" width="3" height="21.7" fill="#f23645"/>
<rect x="1110" y="801.9" width="1" height="54.8" fill="#089981"/>
<rect x="1109" y="815.6" width="3" height="27.1" fill="#089981"/>
<rect x="1115" y="799.9" width="1" height="44.8" fill="#f23645"/>
<rect x="1114" y="815.6" width="3" height="26.3" fill="#f23645"/>
<rect x="1120" y="832.0" width="1" height="33.6" fill="#f23645"/>
<rect x="1119" y="841.1" width="3" height="16.4" fill="#f23645"/>
<rect x="1126" y="817.2" width="1" height="63.2" fill="#089981"/>
<rect x="1125" y="818.8" width="3" height="38.7" fill="#089981"/>
<rect x="1131" y="769.0" width="1" height="59.7" fill="#089981"/>
<rect x="1130" y="800.2" width="3" height="19.5" fill="#089981"/>
<rect x="1136" y="775.2" width="1" height="28.8" fill="#f23645"/>
<rect x="1135" y="800.2" width="3" height="1.0" fill="#f23645"/>
<rect x="1142" y="783.1" width="1" height="21.8" fill="#089981"/>
<rect x="1141" y="787.1" width="3" height="14.8" fill="#089981"/>
<rect x="1147" y="759.1" width="1" height="28.5" fill="#089981"/>
<rect x="1146" y="766.2" width="3" height="21.4" fill="#089981"/>
<rect x="1152" y="757.1" width="1" height="19.8" fill="#089981"/>
<rect x="1151" y="759.9" width="3" height="6.8" fill="#089981"/>
<rect x="1158" y="733.3" width="1" height="37.3" fill="#089981"/>
<rect x="1157" y="735.7" width="3" height="25.0" fill="#089981"/>
<rect x="1163" y="711.0" width="1" height="47.8" fill="#089981"/>
<rect x="1162" y="734.1" width="3" height="2.4" fill="#089981"/>
<rect x="1168" y="721.2" width="1" height="15.3" fill="#089981"/>
<rect x="1167" y="730.3" width="3" height="4.6" fill="#089981"/>
<rect x="1174" y="710.2" width="1" height="31.6" fill="#089981"/>
<rect x="1173" y="722.2" width="3" height="8.6" fill="#089981"/>
<rect x="1179" y="710.2" width="1" height="26.3" fill="#f23645"/>
<rect x="1178" y="722.2" width="3" height="1.5" fill="#f23645"/>
<rect x="1184" y="721.2" width="1" height="48.6" fill="#f23645"/>
<rect x="1183" y="722.9" width="3" height="18.6" fill="#f23645"/>
<rect x="1190" y="716.3" width="1" height="25.5" fill="#089981"/>
<rect x="1189" y="736.9" width="3" height="4.9" fill="#089981"/>
<rect x="1195" y="676.1" width="1" height="77.7" fill="#089981"/>
<rect x="1194" y="708.1" width="3" height="44.1" fill="#089981"/>
<rect x="1200" y="669.1" width="1" height="46.9" fill="#089981"/>
<rect x="1199" y="685.8" width="3" height="22.8" fill="#089981"/>
<rect x="1206" y="678.1" width="1" height="74.4" fill="#f23645"/>
<rect x="1205" y="685.8" width="3" height="34.8" fill="#f23645"/>
<rect x="1211" y="713.0" width="1" height="69.6" fill="#f23645"/>
<rect x="1210" y="720.1" width="3" height="14.8" fill="#f23645"/>
<rect x="1216" y="730.3" width="1" height="79.5" fill="#f23645"/>
<rect x="1215" y="734.4" width="3" height="67.2" fill="#f23645"/>
<rect x="1222" y="789.2" width="1" height="41.2" fill="#089981"/>
<rect x="1221" y="800.7" width="3" height="1.2" fill="#089981"/>
<rect x="1227" y="738.2" width="1" height="69.1" fill="#089981"/>
<rect x="1226" y="784.3" width="3" height="17.6" fill="#089981"/>
<rect x="1232" y="778.2" width="1" height="34.6" fill="#f23645"/>
<rect x="1231" y="784.3" width="3" height="4.1" fill="#f23645"/>
<rect x="1238" y="780.2" width="1" height="42.8" fill="#f23645"/>
<rect x="1237" y="788.1" width="3" height="7.7" fill="#f23645"/>
<rect x="1243" y="767.0" width="1" height="40.3" fill="#f23645"/>
<rect x="1242" y="795.0" width="3" height="1.0" fill="#f23645"/>
<rect x="1248" y="745.1" width="1" height="59.8" fill="#089981"/>
<rect x="1247" y="752.2" width="3" height="44.4" fill="#089981"/>
<rect x="1254" y="744.0" width="1" height="24.6" fill="#f23645"/>
<rect x="1253" y="752.2" width="3" height="14.0" fill="#f23645"/>
<rect x="1259" y="736.0" width="1" height="36.8" fill="#089981"/>
<rect x="1258" y="748.4" width="3" height="17.8" fill="#089981"/>
<rect x="1265" y="747.2" width="1" height="48.6" fill="#f23645"/>
<rect x="1264" y="748.4" width="3" height="46.6" fill="#f23645"/>
<rect x="1270" y="767.0" width="1" height="36.2" fill="#089981"/>
<rect x="1269" y="783.1" width="3" height="11.9" fill="#089981"/>
<rect x="1275" y="767.0" width="1" height="29.6" fill="#f23645"/>
<rect x="1274" y="783.1" width="3" height="6.9" fill="#f23645"/>
<rect x="1281" y="737.2" width="1" height="54.5" fill="#089981"/>
<rect x="1280" y="761.9" width="3" height="28.0" fill="#089981"/>
<rect x="1286" y="737.2" width="1" height="27.7" fill="#089981"/>
<rect x="1285" y="745.1" width="3" height="17.8" fill="#089981"/>
<rect x="1291" y="718.3" width="1" height="40.5" fill="#089981"/>
<rect x="1290" y="722.1" width="3" height="23.8" fill="#089981"/>
<rect x="1297" y="716.3" width="1" height="44.4" fill="#f23645"/>
<rect x="1296" y="722.1" width="3" height="33.7" fill="#f23645"/>
<rect x="1302" y="739.0" width="1" height="44.8" fill="#089981"/>
<rect x="1301" y="745.1" width="3" height="10.7" fill="#089981"/>
<rect x="1307" y="715.0" width="1" height="40.8" fill="#089981"/>
<rect x="1306" y="715.5" width="3" height="30.4" fill="#089981"/>
<rect x="1313" y="700.2" width="1" height="40.8" fill="#f23645"/>
<rect x="1312" y="715.1" width="3" height="21.8" fill="#f23645"/>
<rect x="1318" y="711.0" width="1" height="26.7" fill="#089981"/>
<rect x="1317" y="733.3" width="3" height="3.9" fill="#089981"/>
<rect x="1323" y="687.2" width="1" height="55.8" fill="#089981"/>
<rect x="1322" y="688.0" width="3" height="45.6" fill="#089981"/>
<rect x="1329" y="657.0" width="1" height="36.7" fill="#089981"/>
<rect x="1328" y="659.0" width="3" height="29.3" fill="#089981"/>
<rect x="1334" y="610.1" width="1" height="52.7" fill="#089981"/>
<rect x="1333" y="612.8" width="3" height="46.7" fill="#089981"/>
<rect x="1339" y="599.1" width="1" height="60.1" fill="#f23645"/>
<rect x="1338" y="612.8" width="3" height="31.2" fill="#f23645"/>
<rect x="1345" y="548.9" width="1" height="110.3" fill="#089981"/>
<rect x="1344" y="567.0" width="3" height="77.0" fill="#089981"/>
<rect x="1350" y="564.0" width="1" height="31.8" fill="#f23645"/>
<rect x="1349" y="567.0" width="3" height="18.9" fill="#f23645"/>
<rect x="1355" y="545.9" width="1" height="93.5" fill="#f23645"/>
<rect x="1354" y="564.0" width="3" height="44.6" fill="#f23645"/>
<rect x="1361" y="548.9" width="1" height="69.9" fill="#089981"/>
<rect x="1360" y="573.3" width="3" height="35.3" fill="#089981"/>
<rect x="1366" y="565.0" width="1" height="53.0" fill="#f23645"/>
<rect x="1365" y="573.3" width="3" height="15.9" fill="#f23645"/>
<rect x="1371" y="579.0" width="1" height="33.8" fill="#f23645"/>
<rect x="1370" y="588.7" width="3" height="7.1" fill="#f23645"/>
<rect x="1377" y="550.0" width="1" height="46.6" fill="#089981"/>
<rect x="1376" y="562.1" width="3" height="33.7" fill="#089981"/>
<rect x="1382" y="547.2" width="1" height="19.8" fill="#089981"/>
<rect x="1381" y="556.3" width="3" height="6.1" fill="#089981"/>
<rect x="1387" y="506.1" width="1" height="82.0" fill="#089981"/>
<rect x="1386" y="507.7" width="3" height="49.4" fill="#089981"/>
<rect x="1393" y="448.9" width="1" height="79.0" fill="#089981"/>
<rect x="1392" y="467.0" width="3" height="42.0" fill="#089981"/>
<rect x="1398" y="430.8" width="1" height="43.6" fill="#089981"/>
<rect x="1397" y="453.0" width="3" height="14.8" fill="#089981"/>
<rect x="1403" y="444.0" width="1" height="51.8" fill="#f23645"/>
<rect x="1402" y="453.0" width="3" height="1.7" fill="#f23645"/>
<rect x="1409" y="411.9" width="1" height="53.0" fill="#089981"/>
<rect x="1408" y="434.1" width="3" height="20.6" fill="#089981"/>
<rect x="1414" y="413.0" width="1" height="24.7" fill="#089981"/>
<rect x="1413" y="429.5" width="3" height="5.4" fill="#089981"/>
<rect x="1419" y="380.1" width="1" height="49.4" fill="#089981"/>
<rect x="1418" y="382.2" width="3" height="47.3" fill="#089981"/>
</g>
<line x1="1" y1="382.2" x2="1760" y2="382.2" stroke="#089981" stroke-width="1" stroke-dasharray="1 3"/>
<text x="1780.2" y="174.7" font-size="28.5" fill="#787b86" stroke="#787b86" stroke-width="0.35" textLength="88.5" lengthAdjust="spacing">161.00</text>
<text x="1780.2" y="311.0" font-size="28.5" fill="#787b86" stroke="#787b86" stroke-width="0.35" textLength="88.5" lengthAdjust="spacing">160.00</text>
<text x="1780.2" y="447.6" font-size="28.5" fill="#787b86" stroke="#787b86" stroke-width="0.35" textLength="88.5" lengthAdjust="spacing">159.00</text>
<text x="1780.2" y="583.9" font-size="28.5" fill="#787b86" stroke="#787b86" stroke-width="0.35" textLength="88.5" lengthAdjust="spacing">158.00</text>
<text x="1780.2" y="720.0" font-size="28.5" fill="#787b86" stroke="#787b86" stroke-width="0.35" textLength="88.5" lengthAdjust="spacing">157.00</text>
<text x="1780.2" y="855.7" font-size="28.5" fill="#787b86" stroke="#787b86" stroke-width="0.35" textLength="88.5" lengthAdjust="spacing">156.00</text>
<text x="1780.2" y="991.8" font-size="28.5" fill="#787b86" stroke="#787b86" stroke-width="0.35" textLength="88.5" lengthAdjust="spacing">155.00</text>
<text x="1780.2" y="1129.2" font-size="28.5" fill="#787b86" stroke="#787b86" stroke-width="0.35" textLength="88.5" lengthAdjust="spacing">154.00</text>
<text x="453.4" y="1191" font-size="27.5" fill="#787b86" textLength="49.5" lengthAdjust="spacing">Dec</text>
<text x="1134" y="1191.9" font-size="29" font-weight="bold" fill="#787b86" textLength="68.8" lengthAdjust="spacing">2026</text>
<g transform="translate(18.9,1103.1) scale(1.2535)" fill="#fff" stroke="#fff" stroke-width="2.6" stroke-linejoin="round"><path d="M14 22H7V11H0V4h14v18zM28 22h-8l7.5-18h8L28 22z"/><circle cx="20" cy="8" r="4"/></g>
<g transform="translate(18.9,1103.1) scale(1.2535)" fill="#131313"><path d="M14 22H7V11H0V4h14v18zM28 22h-8l7.5-18h8L28 22z"/><circle cx="20" cy="8" r="4"/></g>
<g fill="none" stroke="#131313" stroke-width="1.4" stroke-linejoin="round"><path d="M1813.4,1185.5 L1818.6,1176.5 L1830,1176.5 L1835.2,1185.5 L1830,1194.6 L1818.6,1194.6 Z"/><circle cx="1824.3" cy="1185.6" r="2.9"/></g>
<rect x="10" y="10" width="460" height="38" fill="#ffffff"/>
<g><circle cx="32.1" cy="20.3" r="8.6" fill="#fff" stroke="#f2f2f5" stroke-width="1"/><circle cx="32.6" cy="20" r="4.2" fill="#f0405a"/>
<circle cx="22.9" cy="28.9" r="10.4" fill="#fff"/>
<clipPath id="us"><circle cx="22.9" cy="28.9" r="9"/></clipPath><g clip-path="url(#us)"><rect x="13" y="19" width="20" height="20" fill="#fff"/>
<rect x="13" y="19.9" width="20" height="3.4" fill="#ef4452"/>
<rect x="13" y="27.2" width="20" height="3.6" fill="#ef4452"/>
<rect x="13" y="34" width="20" height="4" fill="#ef4452"/>
<rect x="13" y="19" width="12" height="11.8" fill="#1f7fd6"/>
<circle cx="16.4" cy="22.4" r="0.7" fill="#bfe6ff"/>
<circle cx="19.5" cy="22.4" r="0.7" fill="#bfe6ff"/>
<circle cx="22.6" cy="22.4" r="0.7" fill="#bfe6ff"/>
<circle cx="16.4" cy="25.6" r="0.7" fill="#bfe6ff"/>
<circle cx="19.5" cy="25.6" r="0.7" fill="#bfe6ff"/>
<circle cx="22.6" cy="25.6" r="0.7" fill="#bfe6ff"/>
<circle cx="16.4" cy="28.6" r="0.7" fill="#bfe6ff"/>
<circle cx="19.5" cy="28.6" r="0.7" fill="#bfe6ff"/>
<circle cx="22.6" cy="28.6" r="0.7" fill="#bfe6ff"/>
</g></g>
<g font-size="22.5" fill="#6a6d78"><text x="47.6" y="32.9" textLength="112" lengthAdjust="spacing">U.S. Dollar</text><text x="172" y="32.9">/</text><text x="190.4" y="32.9" textLength="141.8" lengthAdjust="spacing">Japanese Yen</text><text x="351" y="32.9" textLength="24.4" lengthAdjust="spacing">4h</text></g><circle cx="341.9" cy="26.2" r="2" fill="#3a3d46"/>
<rect x="1766" y="6.7" width="115.4" height="36.2" rx="5" fill="#fff" stroke="#ebebeb" stroke-width="1.2"/>
<text x="1770.3" y="30.9" font-size="18" fill="#000" textLength="29" lengthAdjust="spacingAndGlyphs">JPY</text>
<path d="M1867.6,23 L1871.2,26.4 L1874.8,23" fill="none" stroke="#000" stroke-width="1.9"/>
<line x1="946.8" y1="122.3" x2="980.5" y2="122.3" stroke="#ee7623" stroke-width="4.9" stroke-linecap="round"/>
<g fill="none" stroke="#1b2c5c" stroke-width="5" stroke-linecap="round" stroke-linejoin="round">
<path d="M947,141.2 L969.7,87.3 L992.4,141.2"/>
<path d="M999.4,87.4 L1036.4,87.4 M1017.9,87.4 L1017.9,141.2"/>
<path d="M1050.9,141.2 L1050.9,87.4 L1082,87.4 M1050.9,110.8 L1079.5,110.8"/>
<path d="M1097.6,87.3 L1132.8,141.2 M1132.8,87.3 L1097.6,141.2"/>
</g>
<text x="944.3" y="157.8" font-size="8.8" fill="#1b2c5c" textLength="191" lengthAdjust="spacing"><tspan font-weight="bold">A GLOBAL LEADER</tspan><tspan fill="#6b7280"> IN ONLINE TRADING</tspan></text>
</svg></body></html>
